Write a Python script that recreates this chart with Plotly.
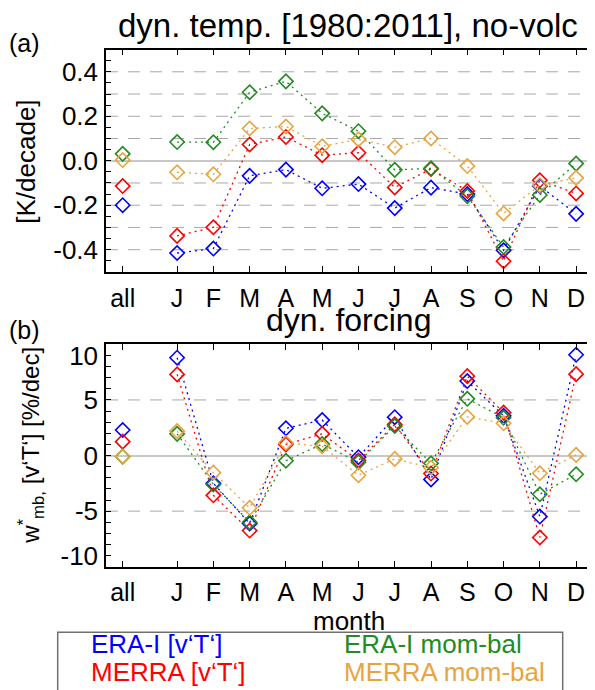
import plotly.graph_objects as go

# ---------------- data ----------------
categories = ['all', 'J', 'F', 'M', 'A', 'M', 'J', 'J', 'A', 'S', 'O', 'N', 'D']
month_positions = [1, 2, 3, 4, 5, 6, 7, 8, 9, 10, 11, 12]
all_position = -0.5

# panel (a): dyn. temp. trends [K/decade]  (first value = 'all')
era_vt_a = [-0.200, -0.415, -0.395, -0.068, -0.040, -0.124, -0.105, -0.213, -0.121, -0.150, -0.403, -0.114, -0.239]
merra_vt_a = [-0.114, -0.338, -0.299, 0.073, 0.107, 0.025, 0.036, -0.120, -0.037, -0.136, -0.452, -0.088, -0.147]
era_mb_a = [0.031, 0.084, 0.083, 0.308, 0.357, 0.213, 0.133, -0.041, -0.034, -0.159, -0.388, -0.154, -0.013]
merra_mb_a = [0.003, -0.052, -0.061, 0.145, 0.154, 0.065, 0.096, 0.061, 0.100, -0.024, -0.237, -0.110, -0.077]

# panel (b): dyn. forcing [%/dec]
era_vt_b = [2.30, 8.80, -2.50, -6.12, 2.45, 3.19, -0.15, 3.45, -2.15, 6.70, 3.57, -5.49, 9.06]
merra_vt_b = [1.25, 7.30, -3.58, -6.75, 1.00, 1.95, -0.44, 2.80, -1.62, 7.14, 3.86, -7.37, 7.32]
era_mb_b = [-0.10, 1.95, -2.60, -6.00, -0.47, 1.03, -0.60, 2.65, -0.70, 5.10, 3.40, -3.48, -1.68]
merra_mb_b = [-0.08, 2.20, -1.54, -4.70, 1.13, 0.83, -1.77, -0.30, -1.10, 3.48, 2.90, -1.59, 0.06]

series_names = ['ERA-I [v‘T‘]', 'MERRA [v‘T‘]', 'ERA-I mom-bal', 'MERRA mom-bal']
series_colors = ['#0000ff', '#ff0000', '#228b22', '#e8a43e']

# axis ticks / grids
a_tickvals = [-0.4, -0.2, 0.0, 0.2, 0.4]
a_grid = [-0.4, -0.3, -0.2, -0.1, 0.1, 0.2, 0.3, 0.4]
b_tickvals = [-9, -5, 0, 5, 9]
b_ticktext = ['-10', '-5', '0', '5', '10']
b_grid = [-5, 5]

# ---------------- layout helpers ----------------
# the page body has an 8px margin, so the figure starts at (8, 8) in the window
OFF = 8
W, H = 595 - OFF, 690 - OFF
FONT = 'Liberation Sans, Arial, Helvetica, sans-serif'


def px(x):
    return (x - OFF) / W


def py(y):
    return 1 - (y - OFF) / H


x_dom = [px(106), px(591.7)]
a_dom = [py(271), py(46)]
b_dom = [py(569.3), py(344.3)]
x_range = [-0.96, 12.43]

fig = go.Figure()

panels = [
    ([era_vt_a, merra_vt_a, era_mb_a, merra_mb_a], 'x', 'y'),
    ([era_vt_b, merra_vt_b, era_mb_b, merra_mb_b], 'x2', 'y2'),
]
for data, xa, ya in panels:
    for vals, name, col in zip(data, series_names, series_colors):
        mk = dict(symbol='diamond-open', size=11, color=col, line=dict(width=1.6, color=col))
        fig.add_trace(go.Scatter(
            x=month_positions, y=vals[1:], mode='lines+markers', name=name,
            line=dict(color=col, width=1.3, dash='2px,4px'), marker=mk,
            xaxis=xa, yaxis=ya, showlegend=False, hoverinfo='skip'))
        fig.add_trace(go.Scatter(
            x=[all_position], y=vals[:1], mode='markers', name=name,
            marker=mk, xaxis=xa, yaxis=ya, showlegend=False, hoverinfo='skip'))

tick_x_vals = [all_position] + month_positions
xcommon = dict(range=x_range, domain=x_dom, tickvals=tick_x_vals, ticktext=categories,
               ticks='inside', ticklen=6, tickwidth=1, tickcolor='black',
               showline=True, linecolor='black', linewidth=1.5, mirror='ticks',
               showgrid=False, zeroline=False, ticklabelstandoff=3,
               tickfont=dict(size=25, color='black', family=FONT))
ycommon = dict(ticks='inside', ticklen=5, tickwidth=1, tickcolor='black',
               showline=True, linecolor='black', linewidth=1.5, mirror='ticks',
               showgrid=False, zeroline=True, zerolinecolor='#c8c8c8', zerolinewidth=2,
               ticklabelstandoff=1,
               tickfont=dict(size=26, color='black', family=FONT))

fig.update_layout(
    width=W, height=H,
    margin=dict(l=0, r=0, t=0, b=0),
    paper_bgcolor='white', plot_bgcolor='white',
    font=dict(family=FONT, color='black'),
    showlegend=False,
    xaxis=dict(anchor='y', **xcommon),
    xaxis2=dict(anchor='y2', **xcommon),
    yaxis=dict(anchor='x', domain=a_dom, range=[-0.5, 0.5], tickvals=a_tickvals,
               ticktext=[f'{v:.1f}' for v in a_tickvals],
               minor=dict(tick0=0, dtick=0.05, ticks='inside', ticklen=5, tickcolor='black', showgrid=False),
               **ycommon),
    yaxis2=dict(anchor='x2', domain=b_dom, range=[-10, 10], tickvals=b_tickvals,
                ticktext=b_ticktext,
                minor=dict(tick0=0, dtick=1, ticks='inside', ticklen=5, tickcolor='black', showgrid=False),
                **ycommon),
)

shapes = []
dash = dict(color='#a8a8a8', width=1, dash='12px,10px')
for v in a_grid:
    shapes.append(dict(type='line', xref='x domain', yref='y', x0=0, x1=1, y0=v, y1=v,
                       line=dash, layer='below'))
for v in b_grid:
    shapes.append(dict(type='line', xref='x2 domain', yref='y2', x0=0, x1=1, y0=v, y1=v,
                       line=dash, layer='below'))
# legend frame
shapes.append(dict(type='rect', xref='paper', yref='paper', x0=px(57.7), x1=px(562.7),
                   y0=py(635.7), y1=py(705), line=dict(color='#707070', width=1.5),
                   fillcolor='rgba(0,0,0,0)'))
fig.update_layout(shapes=shapes)

ann = []


def text(t, x, y, size, xanchor='center', color='black', angle=0):
    ann.append(dict(text=t, x=px(x), y=py(y), xref='paper', yref='paper', showarrow=False,
                    xanchor=xanchor, yanchor='middle', textangle=angle,
                    font=dict(size=size, color=color, family=FONT)))


text('dyn. temp. [1980:2011], no-volc', 348.5, 22, 33)
text('(a)', 7, 39, 25, xanchor='left')
text('dyn. forcing', 348.5, 320, 32)
text('(b)', 7, 330, 25, xanchor='left')
text('[K/decade]', 26, 159.5, 26, angle=-90)
text('w<sup>*</sup><sub>mb,</sub> [v‘T‘] [%/dec]', 31, 447, 24, angle=-90)
text('month', 349, 624, 26)
# legend entries
text(series_names[0], 89, 648, 26, xanchor='left', color=series_colors[0])
text(series_names[1], 89, 676, 26, xanchor='left', color=series_colors[1])
text(series_names[2], 342, 648, 26, xanchor='left', color=series_colors[2])
text(series_names[3], 342, 676, 26, xanchor='left', color=series_colors[3])
fig.update_layout(annotations=ann)

fig.write_html('out.html')
